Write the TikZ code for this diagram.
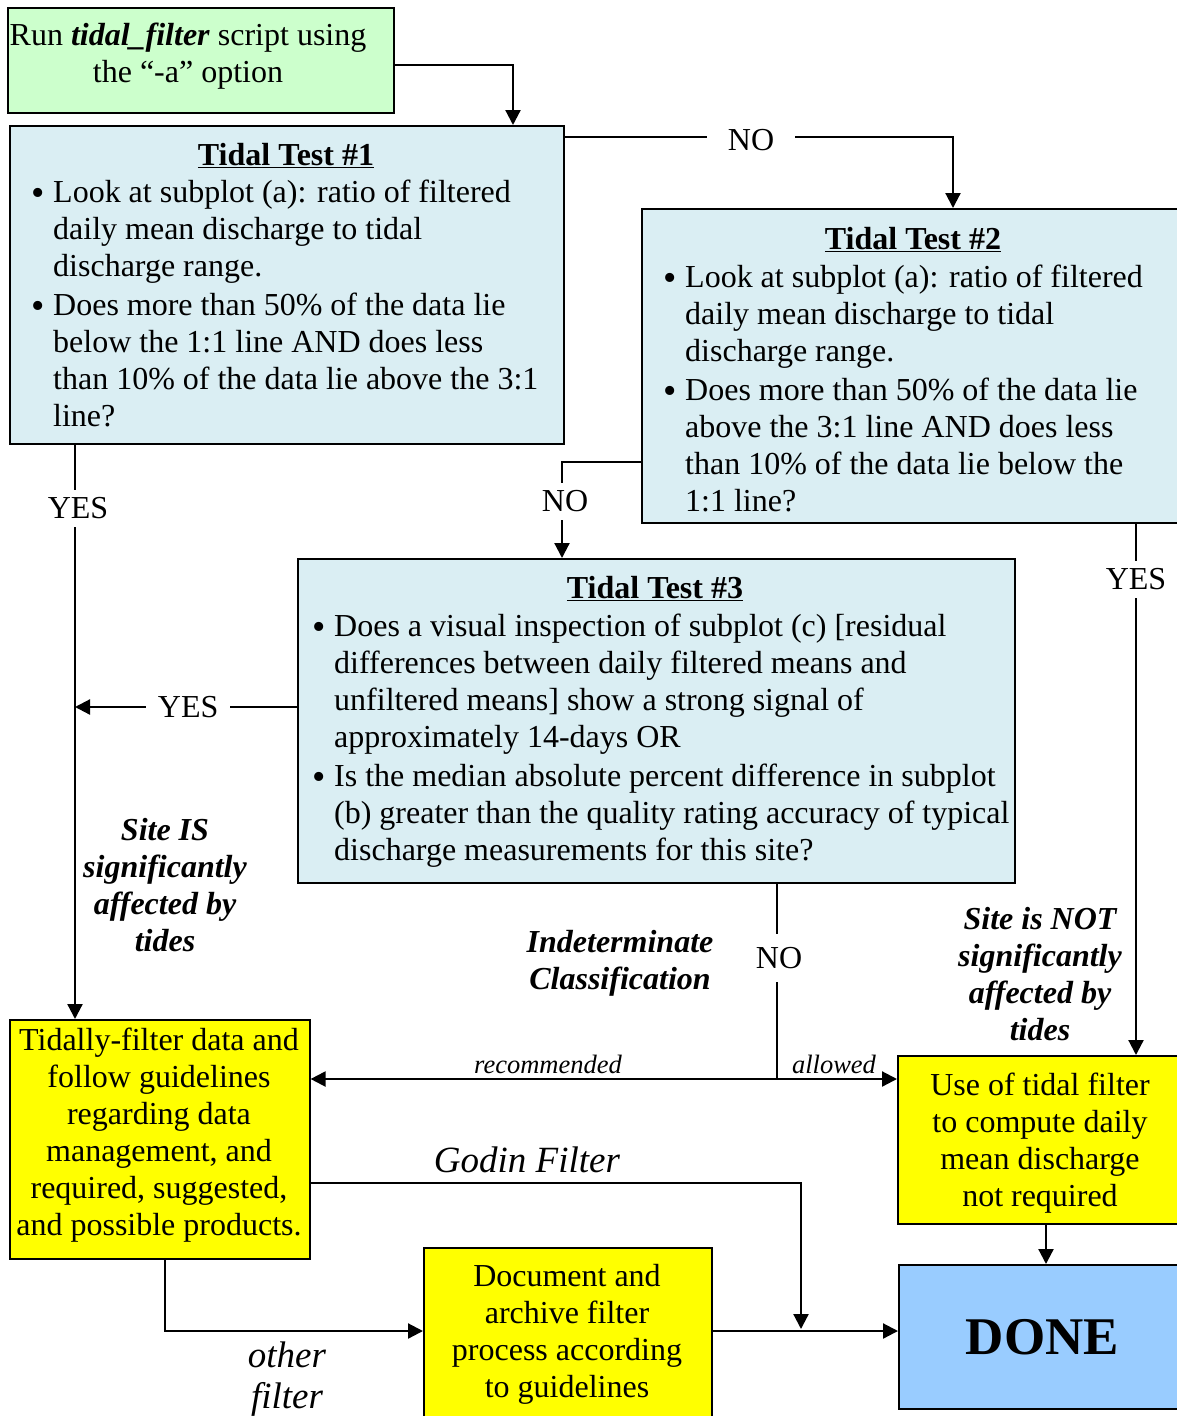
\documentclass[tikz,border=0pt]{standalone}
\usepackage{fontspec}
\setmainfont{Liberation Serif}
\usetikzlibrary{arrows.meta}
\definecolor{startgreen}{HTML}{CCFFCC}
\definecolor{testblue}{HTML}{DAEEF3}
\definecolor{doneblue}{HTML}{99CCFF}
\definecolor{boxyellow}{HTML}{FFFF00}
\newcommand\bodyfs{\fontsize{32}{37}\selectfont}
\newcommand\bul{\makebox[22pt][l]{\raisebox{-3pt}[0pt][0pt]{\fontsize{38}{37}\selectfont\textbullet}}}
\newcommand\ind{\hspace*{22pt}}
\begin{document}
\begin{tikzpicture}[x=1pt,y=-1pt,
  box/.style={draw=black, line width=1.6pt, inner sep=0pt, anchor=north west},
  conn/.style={line width=2.2pt},
  arr/.style={conn, -{Triangle[length=15pt,width=15pt]}},
  txt/.style={inner sep=0pt, anchor=base west, font=\bodyfs},
  ctxt/.style={inner sep=0pt, anchor=base, font=\bodyfs},
  lbl/.style={inner sep=0pt, anchor=base, font=\bodyfs\bfseries\itshape},
  lab/.style={fill=white, font=\bodyfs, inner xsep=#1, inner ysep=8pt},
  lab/.default=12pt
]
\useasboundingbox[fill=white] (0,0) rectangle (1177,1416);

% boxes
\node[box, fill=startgreen, minimum width=386pt, minimum height=105pt] (s) at (7,7) {};
\node[box, fill=testblue, minimum width=554pt, minimum height=318pt] (t1) at (9,125) {};
\node[box, fill=testblue, minimum width=544pt, minimum height=314pt] (t2) at (641,208) {};
\node[box, fill=testblue, minimum width=717pt, minimum height=324pt] (t3) at (297,558) {};
\node[box, fill=boxyellow, minimum width=300pt, minimum height=239pt] (tf) at (9,1019) {};
\node[box, fill=boxyellow, minimum width=288pt, minimum height=168pt] (ub) at (897,1055) {};
\node[box, fill=boxyellow, minimum width=288pt, minimum height=175pt] (doc) at (423,1247) {};
\node[box, fill=doneblue, minimum width=287pt, minimum height=144pt,
      font=\fontsize{53}{60}\selectfont\bfseries] (done) at (898,1264) {DONE};

% start text
\node[ctxt] (stxt) at (188,45) {\begin{tabular}[t]{@{}c@{}}
Run \textbf{\textit{tidal\_filter}} script using\\
the “-a” option\end{tabular}};

% test 1
\node[ctxt] (t1title) at (286,165) {\textbf{\underline{Tidal Test \#1}}};
\node[txt] (t1body) at (31,202) {\begin{tabular}[t]{@{}l@{}}
\bul Look at subplot (a): ratio of filtered\\
\ind daily mean discharge to tidal\\
\ind discharge range.\\[2pt]
\bul Does more than 50\% of the data lie\\
\ind below the 1:1 line AND does less\\
\ind than 10\% of the data lie above the 3:1\\
\ind line?\end{tabular}};

% test 2
\node[ctxt] (t2title) at (913,249) {\textbf{\underline{Tidal Test \#2}}};
\node[txt] (t2body) at (663,287) {\begin{tabular}[t]{@{}l@{}}
\bul Look at subplot (a): ratio of filtered\\
\ind daily mean discharge to tidal\\
\ind discharge range.\\[2pt]
\bul Does more than 50\% of the data lie\\
\ind above the 3:1 line AND does less\\
\ind than 10\% of the data lie below the\\
\ind 1:1 line?\end{tabular}};

% test 3
\node[ctxt] (t3title) at (655,598) {\textbf{\underline{Tidal Test \#3}}};
\node[txt] (t3body) at (312,636) {\begin{tabular}[t]{@{}l@{}}
\bul Does a visual inspection of subplot (c) [residual\\
\ind differences between daily filtered means and\\
\ind unfiltered means] show a strong signal of\\
\ind approximately 14-days OR\\[2pt]
\bul Is the median absolute percent difference in subplot\\
\ind (b) greater than the quality rating accuracy of typical\\
\ind discharge measurements for this site?\end{tabular}};

% yellow texts
\node[ctxt] (tftxt) at (159,1050) {\begin{tabular}[t]{@{}c@{}}
Tidally-filter data and\\ follow guidelines\\ regarding data\\
management, and\\ required, suggested,\\ and possible products.\end{tabular}};
\node[ctxt] (ubtxt) at (1040,1095) {\begin{tabular}[t]{@{}c@{}}
Use of tidal filter\\ to compute daily\\ mean discharge\\ not required\end{tabular}};
\node[ctxt] (doctxt) at (567,1286) {\begin{tabular}[t]{@{}c@{}}
Document and\\ archive filter\\ process according\\ to guidelines\end{tabular}};

% italic labels
\node[lbl] (siteis) at (165,840) {\begin{tabular}[t]{@{}c@{}}
Site IS\\ significantly\\ affected by\\ tides\end{tabular}};
\node[lbl] (indet) at (620,952) {\begin{tabular}[t]{@{}c@{}}
Indeterminate\\ Classification\end{tabular}};
\node[lbl] (sitenot) at (1040,929) {\begin{tabular}[t]{@{}c@{}}
Site is NOT\\ significantly\\ affected by\\ tides\end{tabular}};
\node[inner sep=0pt, anchor=base, font=\fontsize{26.5}{30}\selectfont\itshape] (rec) at (548,1073) {recommended};
\node[inner sep=0pt, anchor=base, font=\fontsize{26.5}{30}\selectfont\itshape] (allow) at (834,1073) {allowed};
\node[inner sep=0pt, anchor=base, font=\fontsize{37}{42}\selectfont\itshape] (godin) at (527,1172) {Godin Filter};
\node[inner sep=0pt, anchor=base, font=\fontsize{37}{41}\selectfont\itshape] (other) at (287,1367) {\begin{tabular}[t]{@{}c@{}}other\\ filter\end{tabular}};

% helper coordinates
\coordinate (c1) at (513,65);
\coordinate (c2) at (953,137);
\coordinate (c3) at (75,0);
\coordinate (c4) at (562,462);
\coordinate (c5) at (75,707);
\coordinate (c6) at (1136,0);
\coordinate (c7) at (777,1079);
\coordinate (c8) at (801,1183);
\coordinate (c9) at (801,1329);
\coordinate (c10) at (165,1331);
\coordinate (c11) at (1046,0);

% connectors
\draw[arr] (s.east |- c1) -- (c1) -- (t1.north -| c1);
\draw[arr] (t1.east |- c2) -- node[lab=21pt, pos=0.48, yshift=-3pt]{NO} (c2) -- (t2.north -| c2);
\draw[arr] (t1.south -| c3) -- node[lab, pos=0.111, xshift=3pt]{YES} (tf.north -| c3);
\draw[arr] (t2.west |- c4) -- (c4) -- node[lab, pos=0.41, xshift=3pt]{NO} (t3.north -| c4);
\draw[arr] (t3.west |- c5) -- node[lab=12pt, pos=0.49]{YES} (c5);
\draw[arr] (t2.south -| c6) -- node[lab, pos=0.105]{YES} (ub.north -| c6);
\draw[conn] (t3.south -| c7) -- node[fill=white, font=\bodyfs, inner xsep=4pt, inner ysep=13pt, pos=0.38, xshift=2pt]{NO} (c7);
\draw[arr] (c7) -- (tf.east |- c7);
\draw[arr] (c7) -- (ub.west |- c7);
\draw[arr] (tf.east |- c8) -- (c8) -- (c9);
\draw[arr] (tf.south -| c10) -- (c10) -- (doc.west |- c10);
\draw[arr] (doc.east |- c10) -- (done.west |- c10);
\draw[arr] (ub.south -| c11) -- (done.north -| c11);
\end{tikzpicture}
\end{document}
